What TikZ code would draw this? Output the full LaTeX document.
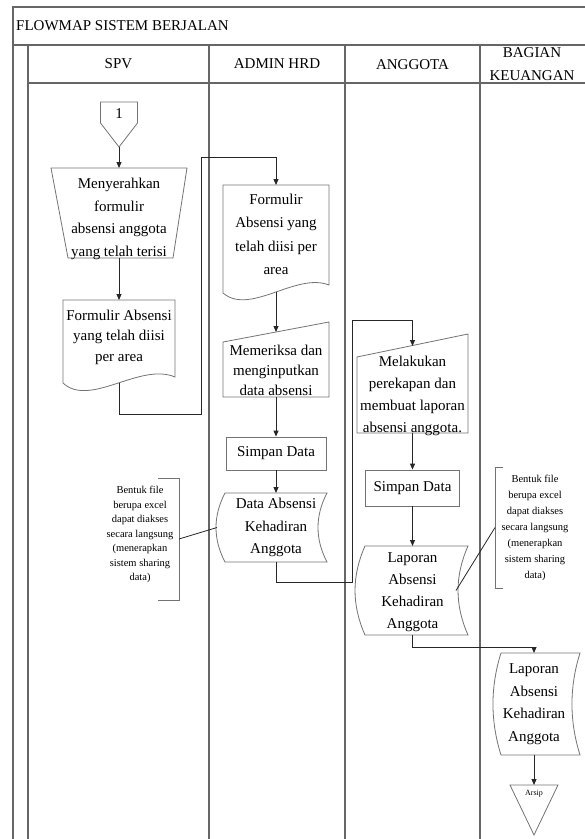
\documentclass[tikz,border=0pt]{standalone}
\usepackage{fontspec}
\setmainfont{Liberation Serif}
\usetikzlibrary{arrows.meta,calc}
\tikzset{
  frame/.style={draw=black!60, line width=1.3pt},
  outline/.style={draw=black!55, line width=0.8pt},
  conn/.style={draw=black!85, line width=1pt},
  arr/.style={conn, -{Triangle[length=6pt,width=5pt]}},
  txt/.style={font=\fontsize{15}{22}\selectfont, align=center, inner sep=0pt},
  small/.style={font=\fontsize{10.5}{14.5}\selectfont, align=center, inner sep=0pt},
  core/.style={inner sep=0pt, outer sep=0pt, draw=none},
}
\begin{document}
\begin{tikzpicture}[x=1pt,y=-1pt]
\useasboundingbox (0,0) rectangle (585,839);
% frame
\draw[frame] (13,839) -- (13,7) -- (585,7);
\draw[frame] (13,45) -- (585,45);
\draw[frame] (28,45) -- (28,839);
\draw[frame] (28,83) -- (585,83);
\foreach \x in {209,345,480} \draw[frame] (\x,45) -- (\x,839);
% titles
\node[txt, anchor=west] (title) at (16,26) {FLOWMAP SISTEM BERJALAN};
\node[txt] (hspv) at (118.5,64) {SPV};
\node[txt] (hadm) at (277,64) {ADMIN HRD};
\node[txt] (hang) at (412.5,65) {ANGGOTA};
\node[txt, font=\fontsize{15}{23}\selectfont] (hkeu) at (532,64.5) {BAGIAN\\KEUANGAN};
% off-page connector
\node[core, minimum width=37, minimum height=45] (op1) at (119,124.5) {};
\draw[outline] (100.5,102) -- (137.5,102) -- (137.5,123) -- (119,147) -- (100.5,123) -- cycle;
\node[txt] (op1t) at (119,114) {1};
% manual operation
\node[core, minimum width=136, minimum height=90] (mo1) at (119,213) {};
\draw[outline] (51,168) -- (187,168) -- (173,258) -- (68,258) -- cycle;
\node[txt, font=\fontsize{15}{22.7}\selectfont] (mo1t) at (119,219) {Menyerahkan\\formulir\\absensi anggota\\yang telah terisi};
\draw[arr] (op1.south) -- (mo1.north);
% document 1
\node[core, minimum width=112, minimum height=83] (doc1) at (119,341.5) {};
\draw[outline] (63,383) -- (63,300) -- (175,300) -- (175,377) .. controls (140,362) and (90,408) .. (63,383);
\node[txt, font=\fontsize{15}{20.5}\selectfont] (doc1t) at (119,337) {Formulir Absensi\\yang telah diisi\\per area};
\draw[arr] (mo1.south) -- (doc1.north);
% document 2
\node[core, minimum width=105, minimum height=107] (doc2) at (276,238.5) {};
\draw[outline] (223,293) -- (223,185) -- (329,185) -- (329,285) .. controls (296,272) and (250,316) .. (223,293);
\node[txt, font=\fontsize{15}{23.5}\selectfont] (doc2t) at (276,234.5) {Formulir\\Absensi yang\\telah diisi per\\area};
\draw[arr] (doc1.south) |- (201,414) -- (201,157) -| (doc2.north);
% manual input 1
\node[core, minimum width=105, minimum height=65] (mi1) at (276,364.5) {};
\draw[outline] (223,342) -- (329,322) -- (329,397) -- (223,397) -- cycle;
\node[txt, font=\fontsize{15}{20}\selectfont] (mi1t) at (276,370) {Memeriksa dan\\menginputkan\\data absensi};
\draw[arr] (doc2.south) -- (mi1.north);
% simpan data 1
\node[txt, outline, minimum width=100, minimum height=33] (sd1) at (276,453.5) {Simpan Data};
\draw[arr] (mi1.south) -- (sd1.north);
% stored data: Data Absensi
\node[core, minimum width=102, minimum height=69] (da) at (276,527.5) {};
\draw[outline] (225,493) -- (327,493) .. controls (315,516) and (315,539) .. (327,562) -- (225,562) .. controls (213,539) and (213,516) .. (225,493) -- cycle;
\node[txt, font=\fontsize{15}{22.5}\selectfont] (dat) at (276,527.5) {Data Absensi\\Kehadiran\\Anggota};
\draw[arr] (sd1.south) -- (da.north);
% annotation 1
\node[small] (ann1) at (140,534.5) {Bentuk file\\berupa excel\\dapat diakses\\secara langsung\\(menerapkan\\sistem sharing\\data)};
\node[core, minimum width=21, minimum height=122] (ann1b) at (168.5,539) {};
\draw[outline] (158,478) -- (179,478) -- (179,600) -- (158,600);
\draw[conn, line width=0.8pt] (ann1b.east) -- ([xshift=-8]da.west);
% manual input 2
\node[core, minimum width=111, minimum height=87] (mi2) at (412.5,389.5) {};
\draw[outline] (357,357) -- (468,334) -- (468,433) -- (357,433) -- cycle;
\node[txt, font=\fontsize{15}{22}\selectfont] (mi2t) at (412.5,395.5) {Melakukan\\perekapan dan\\membuat laporan\\absensi anggota.};
\draw[arr] (da.south) |- (352,582) -- (352,320) -| (mi2.north);
% simpan data 2
\node[txt, outline, minimum width=94, minimum height=36] (sd2) at (412.5,488) {Simpan Data};
\draw[arr] (mi2.south) -- (sd2.north);
% stored data: Laporan 1
\node[core, minimum width=103, minimum height=89] (lap1) at (416.5,590.5) {};
\draw[outline] (365,546) -- (468,546) .. controls (454.7,576) and (454.7,605) .. (468,635) -- (365,635) .. controls (351.7,605) and (351.7,576) .. (365,546) -- cycle;
\node[txt, font=\fontsize{15}{22}\selectfont] (lap1t) at (412.5,592) {Laporan\\Absensi\\Kehadiran\\Anggota};
\draw[arr] (sd2.south) -- (sd2.south |- lap1.north);
% annotation 2
\node[small, font=\fontsize{10.5}{16}\selectfont] (ann2) at (535,528) {Bentuk file\\berupa excel\\dapat diakses\\secara langsung\\(menerapkan\\sistem sharing\\data)};
\node[core, minimum width=8, minimum height=121] (ann2b) at (499,527.5) {};
\draw[outline] (503,467) -- (495,467) -- (495,588) -- (503,588);
\draw[conn, line width=0.8pt] ([xshift=-12]lap1.east) -- (ann2b.west);
% stored data: Laporan 2
\node[core, minimum width=79, minimum height=102] (lap2) at (540.5,704) {};
\draw[outline] (501,653) -- (580,653) .. controls (569.3,687) and (569.3,721) .. (580,755) -- (501,755) .. controls (490.3,721) and (490.3,687) .. (501,653) -- cycle;
\node[txt, font=\fontsize{15}{22.5}\selectfont] (lap2t) at (534,704) {Laporan\\Absensi\\Kehadiran\\Anggota};
% arsip
\node[core, minimum width=48, minimum height=50] (arsip) at (534,810) {};
\draw[outline] (510,785) -- (558,785) -- (534,835) -- cycle;
\node[txt, font=\fontsize{8}{10}\selectfont] (arsipt) at (534,794) {Arsip};
\coordinate (b3) at (534,647);
\draw[arr] (sd2.south |- lap1.south) |- (b3) -- (b3 |- lap2.north);
\draw[arr] (arsip.north |- lap2.south) -- (arsip.north);
\end{tikzpicture}
\end{document}
